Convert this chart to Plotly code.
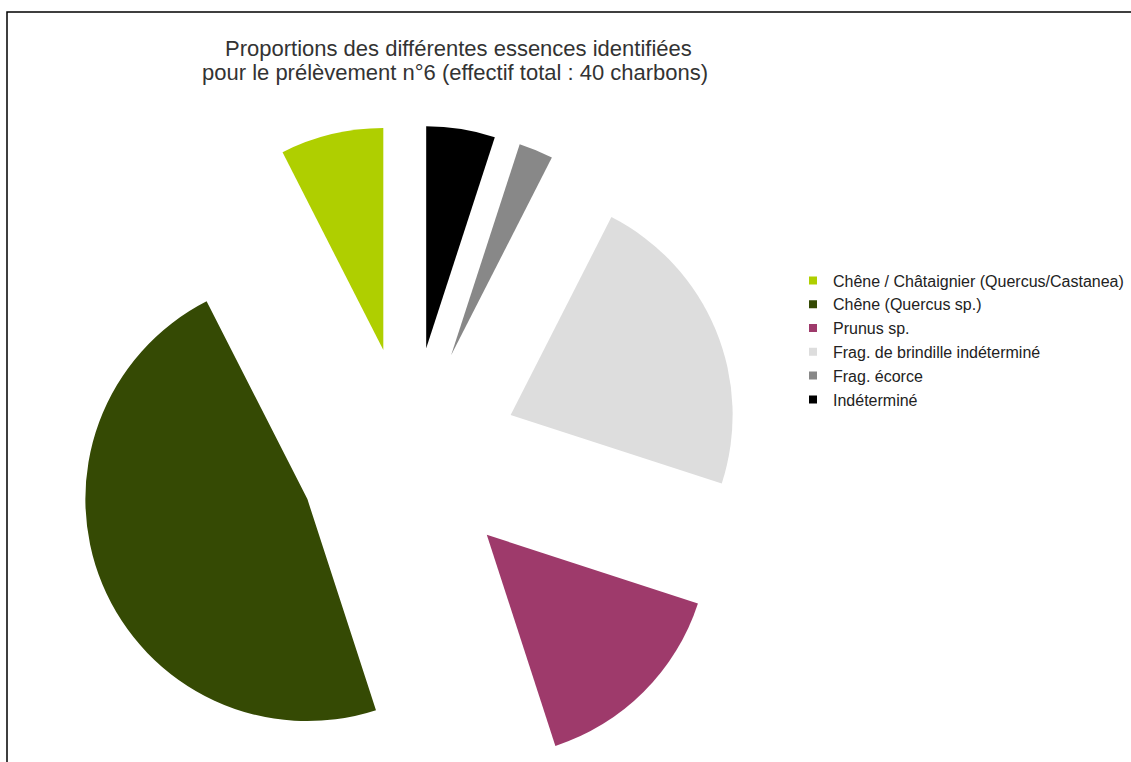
import math
import plotly.graph_objects as go

# Charcoal counts per taxon, sample n°6 (40 fragments in total)
labels = [
    "Chêne / Châtaignier (Quercus/Castanea)",
    "Chêne (Quercus sp.)",
    "Prunus sp.",
    "Frag. de brindille indéterminé",
    "Frag. écorce",
    "Indéterminé",
]
counts = [3, 19, 6, 9, 1, 2]
colors = ["#AFCF00", "#354A04", "#9E3A6B", "#DDDDDD", "#888888", "#000000"]

title_lines = [
    "Proportions des différentes essences identifiées",
    "pour le prélèvement n°6 (effectif total : 40 charbons)",
]

W, H = 1131, 762
CX, CY = 409, 457      # centre of the un-exploded pie (px)
R = 222                # pie radius (px)
PULL = 110             # explosion distance of every slice (px)

fig = go.Figure()

total = sum(counts)
# plotly lays a counter-clockwise pie out so the first slice ends at the
# rotation angle; shift it so the first slice starts at 12 o'clock instead
rotation = -360.0 * counts[0] / total

start = 0.0
for i, (lab, val) in enumerate(zip(labels, counts)):
    frac = val / total
    mid = (start + frac / 2) * 2 * math.pi   # counter-clockwise from 12 o'clock
    start += frac
    sx = CX - PULL * math.sin(mid)
    sy = CY - PULL * math.cos(mid)
    slice_colors = [c if j == i else "rgba(0,0,0,0)" for j, c in enumerate(colors)]
    fig.add_trace(go.Pie(
        labels=labels,
        values=counts,
        sort=False,
        direction="counterclockwise",
        rotation=rotation,
        marker=dict(colors=slice_colors, line=dict(width=0)),
        textinfo="none",
        hoverinfo="skip",
        showlegend=False,
        domain=dict(
            x=[(sx - R) / W, (sx + R) / W],
            y=[1 - (sy + R) / H, 1 - (sy - R) / H],
        ),
    ))

# Legend entries
for lab, col in zip(labels, colors):
    fig.add_trace(go.Scatter(
        x=[None], y=[None], mode="markers", name=lab,
        marker=dict(symbol="square", size=8, color=col, line=dict(width=0)),
    ))

title_font = dict(family="Liberation Sans, Arial, sans-serif", size=22, color="#333333")
annotations = [
    dict(text=title_lines[0], x=458 / W, y=1 - 48 / H, xref="paper", yref="paper",
         xanchor="center", yanchor="middle", showarrow=False, font=title_font),
    dict(text=title_lines[1], x=455 / W, y=1 - 72 / H, xref="paper", yref="paper",
         xanchor="center", yanchor="middle", showarrow=False, font=title_font),
]

fig.update_layout(
    width=W, height=H,
    margin=dict(l=0, r=0, t=0, b=0),
    paper_bgcolor="white", plot_bgcolor="white",
    font=dict(family="Liberation Sans, Arial, sans-serif", color="#333333"),
    xaxis=dict(visible=False), yaxis=dict(visible=False),
    legend=dict(x=793 / W, xanchor="left", y=1 - 263.5 / H, yanchor="top",
                font=dict(size=16, color="#222222"),
                traceorder="normal",
                bgcolor="rgba(0,0,0,0)"),
    annotations=annotations,
    shapes=[dict(type="rect", xref="paper", yref="paper",
                 x0=7 / W, x1=1.05, y0=-0.05, y1=1 - 12 / H,
                 line=dict(color="black", width=1.5), layer="above")],
)

fig.write_html("out.html")
